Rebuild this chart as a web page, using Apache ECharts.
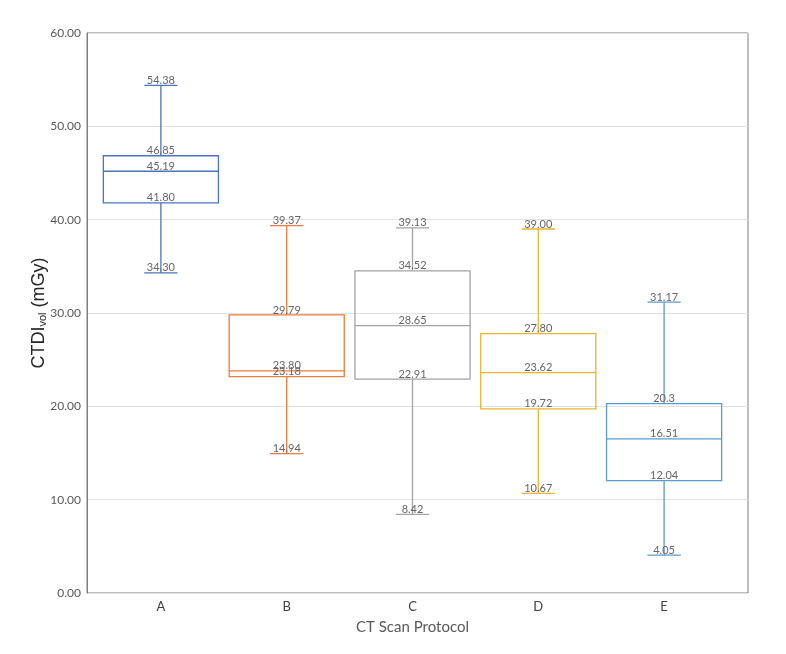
<!DOCTYPE html>
<html><head><meta charset="utf-8">
<script src="https://cdn.jsdelivr.net/npm/echarts@6/dist/echarts.min.js"></script>
<style>html,body{margin:0;padding:0;background:#fff}#c{width:786px;height:654px}</style>
</head><body><div id="c"></div>
<script>
const categories = ['A', 'B', 'C', 'D', 'E'];
const minLabels    = ['34.30', '14.94', '8.42', '10.67', '4.05'];
const q1Labels     = ['41.80', '23.18', '22.91', '19.72', '12.04'];
const medianLabels = ['45.19', '23.80', '28.65', '23.62', '16.51'];
const q3Labels     = ['46.85', '29.79', '34.52', '27.80', '20.3'];
const maxLabels    = ['54.38', '39.37', '39.13', '39.00', '31.17'];
const yTicks = [0, 10, 20, 30, 40, 50, 60];
const colors = ['#4a74bd', '#ea7c3e', '#a3a3a3', '#e9b530', '#5b9bcb'];

const data = categories.map((c, i) => [i,
  parseFloat(minLabels[i]), parseFloat(q1Labels[i]), parseFloat(medianLabels[i]),
  parseFloat(q3Labels[i]), parseFloat(maxLabels[i])]);
const labelSets = [minLabels, q1Labels, medianLabels, q3Labels, maxLabels];

const font = 'Lato, "Liberation Sans", sans-serif';

function renderItem(params, api) {
  const i = params.dataIndex;
  const x = api.value(0);
  const band = api.size([1, 0])[0];
  const boxW = band * 0.915;
  const capW = band * 0.265;
  const col = colors[i];
  const p = [1, 2, 3, 4, 5].map(k => api.coord([x, api.value(k)]));
  const cx = p[0][0];
  const ls = {stroke: col, lineWidth: 1.3, fill: null};
  const children = [
    {type: 'line', shape: {x1: cx, y1: p[4][1], x2: cx, y2: p[3][1]}, style: ls},
    {type: 'line', shape: {x1: cx, y1: p[1][1], x2: cx, y2: p[0][1]}, style: ls},
    {type: 'line', shape: {x1: cx - capW / 2, y1: p[4][1], x2: cx + capW / 2, y2: p[4][1]}, style: ls},
    {type: 'line', shape: {x1: cx - capW / 2, y1: p[0][1], x2: cx + capW / 2, y2: p[0][1]}, style: ls},
    {type: 'rect', shape: {x: cx - boxW / 2, y: p[3][1], width: boxW, height: p[1][1] - p[3][1]}, style: {stroke: col, lineWidth: 1.3, fill: 'rgba(0,0,0,0)'}},
    {type: 'line', shape: {x1: cx - boxW / 2, y1: p[2][1], x2: cx + boxW / 2, y2: p[2][1]}, style: ls}
  ];
  for (let k = 0; k < 5; k++) {
    children.push({type: 'text', style: {
      text: labelSets[k][i], x: cx, y: p[k][1] + 0.5,
      align: 'center', verticalAlign: 'bottom',
      fill: '#666666', fontSize: 11, fontFamily: font
    }, z2: 10});
  }
  return {type: 'group', children};
}

const chart = echarts.init(document.getElementById('c'), null, {renderer: 'canvas'});
chart.setOption({
  backgroundColor: '#fff',
  animation: false,
  grid: [
    {left: 87, right: 38, top: 33, bottom: 61, show: true, borderColor: '#7f7f7f', borderWidth: 1, backgroundColor: 'transparent'},
    {left: 98, right: 59, top: 33, bottom: 61}
  ],
  yAxis: [
    {gridIndex: 0, type: 'value', min: yTicks[0], max: yTicks[yTicks.length - 1], interval: 10,
     axisLine: {show: true, lineStyle: {color: '#7f7f7f'}}, axisTick: {show: false},
     axisLabel: {formatter: v => v.toFixed(2), color: '#595959', fontSize: 12, fontFamily: font, margin: 6},
     splitLine: {lineStyle: {color: '#e2e2e2'}},
     name: '{a|CTDI}{b|vol}{a| (mGy)}', nameLocation: 'middle', nameRotate: 90, nameGap: 39,
     nameMoveOverlap: false,
     nameTextStyle: {rich: {a: {fontSize: 18, color: '#262626', fontFamily: '"Liberation Sans", Arial, sans-serif'}, b: {fontSize: 11, color: '#262626', fontFamily: '"Liberation Sans", Arial, sans-serif', verticalAlign: 'bottom', padding: [6, 0, 0, 0]}}}},
    {gridIndex: 1, type: 'value', min: 0, max: 60, show: false}
  ],
  xAxis: [
    {gridIndex: 0, type: 'value', show: false, min: 0, max: 1},
    {gridIndex: 1, type: 'category', data: categories,
     axisLine: {show: false}, axisTick: {show: false},
     axisLabel: {color: '#404040', fontSize: 13, fontFamily: font, margin: 7},
     name: 'CT Scan Protocol', nameLocation: 'middle', nameGap: 27,
     nameMoveOverlap: false,
     nameTextStyle: {color: '#595959', fontSize: 15, fontFamily: font}}
  ],
  series: [{
    type: 'custom', xAxisIndex: 1, yAxisIndex: 1,
    renderItem, data, clip: false,
    encode: {x: 0, y: [1, 2, 3, 4, 5]}
  }]
});
</script></body></html>
